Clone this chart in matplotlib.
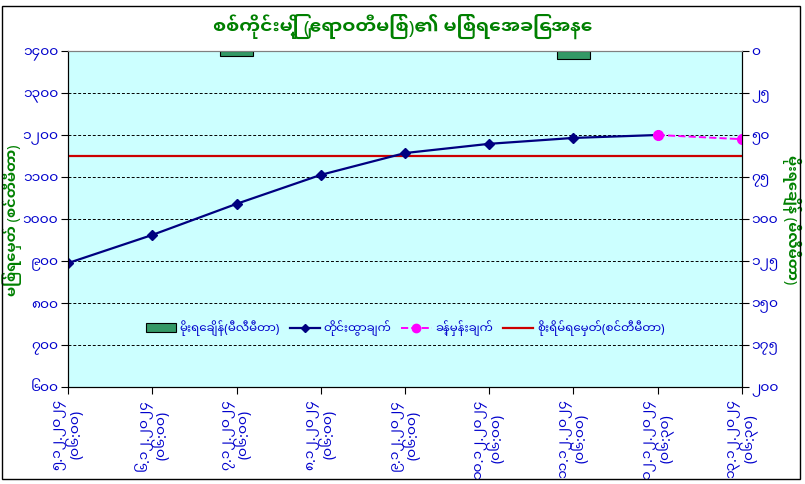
import matplotlib
matplotlib.use("Agg")
import matplotlib.pyplot as plt
import numpy as np
from matplotlib.patches import Rectangle
from matplotlib.lines import Line2D

plt.rcParams['font.family'] = ['Noto Sans Myanmar UI', 'Noto Sans Myanmar', 'DejaVu Sans']

dates = ["၅.၁၂.၂၀၂၄\n(၀၆:၀၀)", "၆.၁၂.၂၀၂၄\n(၀၆:၀၀)", "၇.၁၂.၂၀၂၄\n(၀၆:၀၀)",
         "၈.၁၂.၂၀၂၄\n(၀၆:၀၀)", "၉.၁၂.၂၀၂၄\n(၀၆:၀၀)", "၁၀.၁၂.၂၀၂၄\n(၀၆:၀၀)",
         "၁၁.၁၂.၂၀၂၄\n(၀၆:၀၀)", "၁၂.၁၂.၂၀၂၄\n(၀၆:၃၀)", "၁၃.၁၂.၂၀၂၄\n(၀၆:၃၀)"]
level = [895, 962, 1036, 1105, 1157, 1179, 1193, 1200]          # observed, cm
forecast_x = [7, 8]
forecast = [1200, 1190]
danger = 1150
rain_x = [2, 6]
rain = [3, 4.5]                                                 # mm

left_ticks = [600, 700, 800, 900, 1000, 1100, 1200, 1300, 1400]
left_labels = ["၆၀၀", "၇၀၀", "၈၀၀", "၉၀၀", "၁၀၀၀", "၁၁၀၀", "၁၂၀၀", "၁၃၀၀", "၁၄၀၀"]
right_ticks = [0, 25, 50, 75, 100, 125, 150, 175, 200]
right_labels = ["၀", "၂၅", "၅၀", "၇၅", "၁၀၀", "၁၂၅", "၁၅၀", "၁၇၅", "၂၀၀"]

title = "စစ်ကိုင်းမြို့ (ဧရာဝတီမြစ်)၏ မြစ်ရေအခြေအနေ"
ylabel_left = "မြစ်ရေမှတ် (စင်တီမီတာ)"
ylabel_right = "မိုးရေချိန် (မီလီမီတာ)"
leg_labels = ["မိုးရေချိန်(မီလီမီတာ)", "တိုင်းထွာချက်", "ခန့်မှန်းချက်", "စိုးရိမ်ရေမှတ်(စင်တီမီတာ)"]

green = "#008000"
blue = "#0000CC"

fig = plt.figure(figsize=(8.05, 4.85), dpi=100)
ax = fig.add_axes([0.0845, 0.2, 0.8372, 0.6928])
ax.set_facecolor("#CCFFFF")

x = np.arange(len(dates))
ax.plot(x[:len(level)], level, color="#000080", marker="D", ms=5, lw=1.6, zorder=4)
ax.plot(forecast_x, forecast, color="#FF00FF", ls="--", marker="o", ms=7, lw=1.4, zorder=5)
ax.axhline(danger, color="#CC0000", lw=1.6, zorder=3)

ax.set_xlim(0, len(dates) - 1)
ax.set_ylim(600, 1400)
ax.set_yticks(left_ticks)
ax.set_yticklabels(left_labels)
ax.set_xticks(x)
ax.set_xticklabels(dates, rotation=90, linespacing=1.0, fontsize=9.5)
ax.grid(axis="y", color="black", ls=(0, (3, 2)), lw=0.7)
ax.tick_params(colors="black", labelcolor=blue, labelsize=10, direction="out", length=5,
               pad=2)
ax.tick_params(axis="x", pad=3)
ax.spines["top"].set_color("gray")
ax.set_ylabel(ylabel_left, color=green, fontsize=10.5, fontweight="bold", va="center")
ax.yaxis.set_label_coords(-0.083, 0.5)

ax2 = ax.twinx()
ax2.bar(rain_x, rain, width=0.39, color="#339966", edgecolor="black", lw=0.8, zorder=2)
ax2.set_ylim(200, 0)
ax2.set_yticks(right_ticks)
ax2.set_yticklabels(right_labels)
ax2.tick_params(colors="black", labelcolor=blue, labelsize=10, direction="out", length=5,
                pad=2)
ax2.spines["top"].set_color("gray")
ax2.set_ylabel(ylabel_right, color=green, fontsize=10.5, fontweight="bold", rotation=270,
               va="center")
ax2.yaxis.set_label_coords(1.073, 0.5)

handles = [Rectangle((0, 0), 1, 1, facecolor="#339966", edgecolor="black", lw=0.8),
           Line2D([], [], color="#000080", marker="D", ms=4, lw=1.6),
           Line2D([], [], color="#FF00FF", ls="--", marker="o", ms=6, lw=1.4),
           Line2D([], [], color="#CC0000", lw=1.6)]
ax2.legend(handles, leg_labels, ncol=4, loc="center", bbox_to_anchor=(0.5, 0.179),
           frameon=False, fontsize=8.5, labelcolor=blue, handlelength=2.6,
           handletextpad=0.3, columnspacing=0.8)

fig.suptitle(title, color=green, fontsize=13.5, fontweight="bold", y=0.972)

fig.patches.append(Rectangle((0.002, 0.01), 0.992, 0.975, transform=fig.transFigure,
                             fill=False, edgecolor="black", lw=1))

fig.savefig("out.png", dpi=100)
